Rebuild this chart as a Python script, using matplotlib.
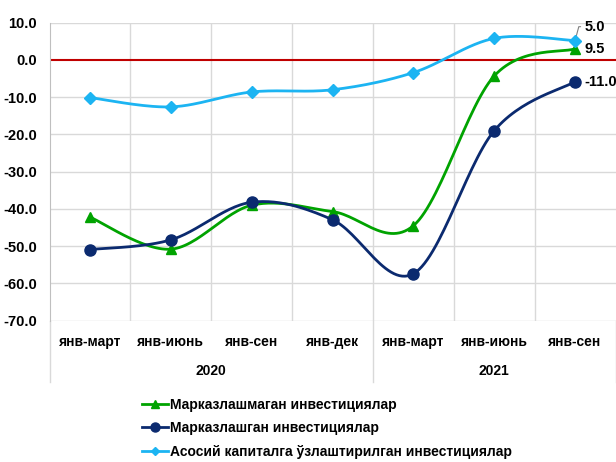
import numpy as np
import matplotlib
matplotlib.use('Agg')
import matplotlib.pyplot as plt
import matplotlib.transforms as mtransforms

plt.rcParams['font.family'] = ['Liberation Sans Narrow', 'Liberation Sans', 'DejaVu Sans']
plt.rcParams['font.weight'] = 'bold'

categories = ['янв-март', 'янв-июнь', 'янв-сен', 'янв-дек', 'янв-март', 'янв-июнь', 'янв-сен']
years = ['2020', '2021']
year_sizes = [4, 3]

green_vals = [-42.2, -50.8, -39.0, -40.7, -44.5, -4.3, 3.0]
navy_vals = [-50.9, -48.3, -38.2, -42.9, -57.4, -19.0, -5.8]
blue_vals = [-10.1, -12.6, -8.6, -8.0, -3.4, 5.8, 5.2]

green_label = 'Марказлашмаган инвестициялар'
navy_label = 'Марказлашган инвестициялар'
blue_label = 'Асосий капиталга ўзлаштирилган инвестициялар'
end_labels = ['9.5', '-11.0', '5.0']

GREEN = '#00A300'
NAVY = '#0B2A6F'
BLUE = '#1CB4F2'


def smooth(xs, ys, n=30):
    # excel-like smoothed line (catmull-rom through the points)
    p = np.column_stack([xs, ys]).astype(float)
    p = np.vstack([p[0], p, p[-1]])
    out = []
    for i in range(1, len(p) - 2):
        p0, p1, p2, p3 = p[i - 1], p[i], p[i + 1], p[i + 2]
        c1 = p1 + (p2 - p0) / 6.0
        c2 = p2 - (p3 - p1) / 6.0
        t = np.linspace(0, 1, n)[:, None]
        seg = (1 - t) ** 3 * p1 + 3 * (1 - t) ** 2 * t * c1 + 3 * (1 - t) * t ** 2 * c2 + t ** 3 * p2
        out.append(seg if i == 1 else seg[1:])
    out = np.vstack(out)
    return out[:, 0], out[:, 1]


fig = plt.figure(figsize=(6.16, 4.62), dpi=100)
ax = fig.add_axes([49.5 / 616, 1 - 320.7 / 462, 566 / 616, (320.7 - 22.7) / 462])

x = np.arange(len(categories))
ax.set_xlim(-0.5, len(categories) - 0.5)
ax.set_ylim(-70, 10)

ax.set_yticks(np.arange(-70, 11, 10))
ax.set_yticklabels(['%.1f' % v for v in np.arange(-70, 11, 10)], fontsize=10.5, fontweight='bold')
ax.tick_params(axis='y', length=0, pad=9)
ax.set_xticks([])
for v in np.arange(-70, 11, 10):
    if v != 0:
        ax.axhline(v, color='#D9D9D9', lw=1, zorder=0)
for b in np.arange(0.5, len(categories) - 1, 1):
    ax.axvline(b, color='#D9D9D9', lw=1, zorder=0)
ax.axhline(0, color='#C00000', lw=1.5, zorder=1)

for s in ['top', 'right', 'bottom']:
    ax.spines[s].set_visible(False)
ax.spines['left'].set_color('#BFBFBF')

series = [(green_vals, GREEN, '^', 7.5, green_label),
          (navy_vals, NAVY, 'o', 8, navy_label),
          (blue_vals, BLUE, 'D', 6, blue_label)]
handles = []
for vals, col, mk, ms, lab in series:
    sx, sy = smooth(x, vals)
    ax.plot(sx, sy, color=col, lw=2, zorder=3, solid_capstyle='round')
    ax.plot(x, vals, ls='none', marker=mk, ms=ms, color=col, zorder=4)
    h, = ax.plot([], [], color=col, lw=2, marker=mk, ms=ms - 1.5, label=lab)
    handles.append(h)

# data labels at the last point
last = len(categories) - 1
lab_kw = dict(textcoords='offset points', va='center', ha='left', fontsize=10.5,
              fontweight='bold', annotation_clip=False)
ax.annotate(end_labels[0], (last, green_vals[-1]), xytext=(7, 0), **lab_kw)
ax.annotate(end_labels[1], (last, navy_vals[-1]), xytext=(7, 0), **lab_kw)
ax.annotate(end_labels[2], (last, blue_vals[-1]), xytext=(7, 10),
            arrowprops=dict(arrowstyle='-', color='#808080', lw=0.8, shrinkA=1, shrinkB=3,
                            connectionstyle='angle,angleA=0,angleB=75,rad=0'), **lab_kw)

# two-level category axis
trans = mtransforms.blended_transform_factory(ax.transData, ax.transAxes)
for i, c in enumerate(categories):
    ax.text(i, -0.07, c, transform=trans, ha='center', va='center', fontsize=10, fontweight='bold')
start = 0
bounds = [-0.5]
for yr, n in zip(years, year_sizes):
    ax.text(start + (n - 1) / 2.0, -0.168, yr, transform=trans, ha='center', va='center',
            fontsize=10, fontweight='bold')
    start += n
    bounds.append(start - 0.5)
for b in bounds:
    ax.plot([b, b], [0, -0.205], transform=trans, color='#D9D9D9', lw=1, clip_on=False)

fig.legend(handles=handles, loc='upper left', bbox_to_anchor=(136 / 616, 1 - 392 / 462),
           frameon=False, handlelength=1.9, handletextpad=0.15, labelspacing=0.7,
           borderaxespad=0, prop={'weight': 'bold', 'size': 10})

fig.savefig('out.png', dpi=100)
